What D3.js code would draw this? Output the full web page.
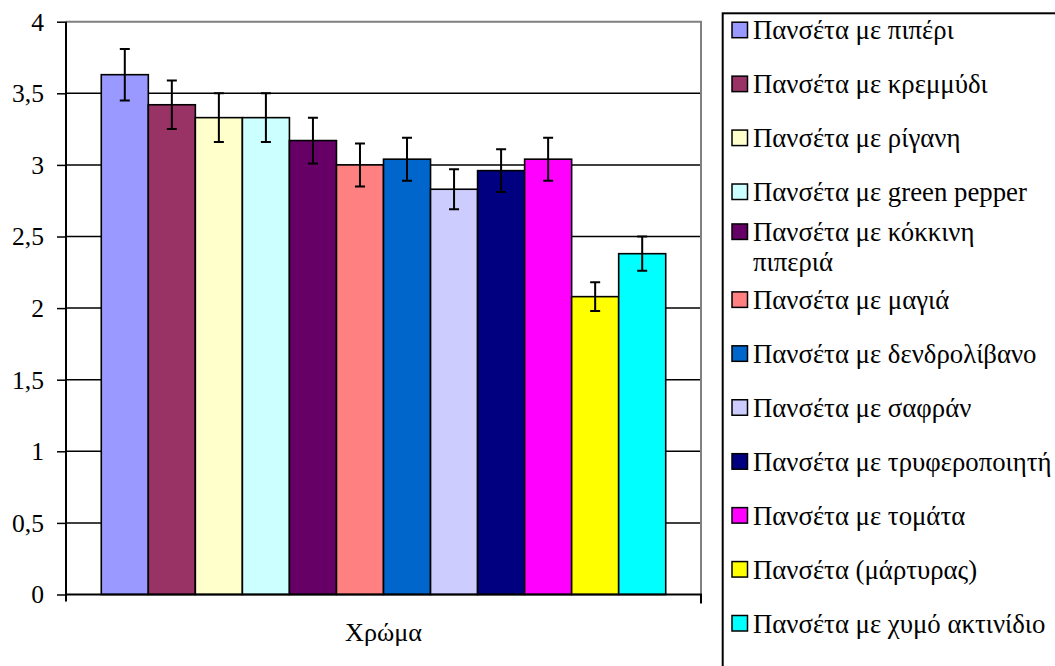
<!DOCTYPE html>
<html>
<head>
<meta charset="utf-8">
<script src="https://cdn.jsdelivr.net/npm/d3@7"></script>
<style>
  html, body { margin: 0; padding: 0; background: #fff; }
</style>
</head>
<body>
<svg id="chart" width="1055" height="666"></svg>
<script>
const category = ["Χρώμα"];
const seriesNames = [
  "Πανσέτα με πιπέρι",
  "Πανσέτα με κρεμμύδι",
  "Πανσέτα με ρίγανη",
  "Πανσέτα με green pepper",
  "Πανσέτα με κόκκινη πιπεριά",
  "Πανσέτα με μαγιά",
  "Πανσέτα με δενδρολίβανο",
  "Πανσέτα με σαφράν",
  "Πανσέτα με τρυφεροποιητή",
  "Πανσέτα με τομάτα",
  "Πανσέτα (μάρτυρας)",
  "Πανσέτα με χυμό ακτινίδιο"
];
// legend text as it is broken into lines in the legend
const legendLines = [
  ["Πανσέτα με πιπέρι"],
  ["Πανσέτα με κρεμμύδι"],
  ["Πανσέτα με ρίγανη"],
  ["Πανσέτα με green pepper"],
  ["Πανσέτα με κόκκινη", "πιπεριά"],
  ["Πανσέτα με μαγιά"],
  ["Πανσέτα με δενδρολίβανο"],
  ["Πανσέτα με σαφράν"],
  ["Πανσέτα με τρυφεροποιητή"],
  ["Πανσέτα με τομάτα"],
  ["Πανσέτα (μάρτυρας)"],
  ["Πανσέτα με χυμό ακτινίδιο"]
];
const values = [3.63, 3.42, 3.33, 3.33, 3.17, 3.00, 3.04, 2.83, 2.96, 3.04, 2.08, 2.38];
const errors = [0.18, 0.17, 0.17, 0.17, 0.16, 0.15, 0.15, 0.14, 0.15, 0.15, 0.10, 0.12];
const colors = ["#9999FF", "#993366", "#FFFFCC", "#CCFFFF", "#660066", "#FF8080",
                "#0066CC", "#CCCCFF", "#000080", "#FF00FF", "#FFFF00", "#00FFFF"];
const yTicks = [0, 0.5, 1, 1.5, 2, 2.5, 3, 3.5, 4];
const yTickLabels = ["0", "0,5", "1", "1,5", "2", "2,5", "3", "3,5", "4"];

// ---- font selection: pick the first installed serif face ----
const ctx = document.createElement("canvas").getContext("2d");
function measure(str, font) { ctx.font = font; return ctx.measureText(str).width; }
const probe = "Πανσέτα green pepper 3,5 Χρώμα";
const candidates = ["Liberation Serif", "Times New Roman", "Tinos", "DejaVu Serif",
                    "Noto Serif", "FreeSerif", "Nimbus Roman", "Times"];
let FAMILY = null;
for (const c of candidates) {
  const a = measure(probe, `40px '${c}', monospace`);
  const b = measure(probe, `40px monospace`);
  const a2 = measure(probe, `40px '${c}', sans-serif`);
  const b2 = measure(probe, `40px sans-serif`);
  if (Math.abs(a - b) > 0.5 && Math.abs(a2 - b2) > 0.5) { FAMILY = c; break; }
}
const FONT = FAMILY ? `'${FAMILY}', serif` : "serif";
function fitSize(str, targetW, base) {
  const w = measure(str, `${base}px ${FONT}`);
  return w > 0 ? base * targetW / w : base;
}
const legendSize = fitSize("Πανσέτα με green pepper", 274, 22);
const tickSize = fitSize("3,5", 32, 21);
const labelSize = fitSize("Χρώμα", 77, 22);

const svg = d3.select("#chart");
const plot = { left: 66, right: 701, top: 21.7, bottom: 594.5 };

const y = d3.scaleLinear().domain([0, 4]).range([plot.bottom, plot.top]);
const x0 = d3.scaleBand().domain(category).range([plot.left, plot.right])
  .paddingInner(0).paddingOuter(0.0625);
const x1 = d3.scaleBand().domain(seriesNames).range([0, x0.bandwidth()]).padding(0);

// gridlines
svg.append("g").selectAll("line")
  .data(yTicks.filter(t => t > 0 && t < 4))
  .join("line")
  .attr("x1", plot.left).attr("x2", plot.right)
  .attr("y1", d => y(d)).attr("y2", d => y(d))
  .attr("stroke", "#000").attr("stroke-width", 1.5);

// plot border top & right (gray)
svg.append("path")
  .attr("d", `M${plot.left},${y(4)}H${plot.right}V${plot.bottom}`)
  .attr("fill", "none").attr("stroke", "#808080").attr("stroke-width", 2);

// bars
const gBars = svg.append("g").attr("transform", `translate(${x0(category[0])},0)`);
gBars.selectAll("rect")
  .data(seriesNames)
  .join("rect")
  .attr("x", d => x1(d))
  .attr("y", (d, i) => y(values[i]))
  .attr("width", x1.bandwidth())
  .attr("height", (d, i) => y(0) - y(values[i]))
  .attr("fill", (d, i) => colors[i])
  .attr("stroke", "#000").attr("stroke-width", 1.6);

// error bars
const capW = 10;
const gErr = gBars.append("g").attr("stroke", "#000").attr("stroke-width", 2).attr("fill", "none");
gErr.selectAll("path")
  .data(seriesNames)
  .join("path")
  .attr("d", (d, i) => {
    const cx = x1(d) + x1.bandwidth() / 2;
    const yt = y(values[i] + errors[i]);
    const yb = y(values[i] - errors[i]);
    return `M${cx},${yt}V${yb}M${cx - capW / 2},${yt}H${cx + capW / 2}M${cx - capW / 2},${yb}H${cx + capW / 2}`;
  });

// y axis
const yAxis = d3.axisLeft(y).tickValues(yTicks)
  .tickFormat((d, i) => yTickLabels[i]).tickSize(9).tickPadding(13);
const gy = svg.append("g").attr("transform", `translate(${plot.left},0)`).call(yAxis)
  .attr("font-family", FONT).attr("font-size", tickSize);
gy.select(".domain").remove();
gy.selectAll(".tick line").attr("stroke", "#000").attr("stroke-width", 1.5);
gy.selectAll(".tick text").attr("fill", "#000").attr("dy", "0.33em");
svg.append("line").attr("x1", plot.left).attr("x2", plot.left)
  .attr("y1", y(4)).attr("y2", plot.bottom + 7)
  .attr("stroke", "#000").attr("stroke-width", 2);

// x axis
svg.append("line").attr("x1", plot.left - 1).attr("x2", plot.right + 1)
  .attr("y1", plot.bottom).attr("y2", plot.bottom)
  .attr("stroke", "#000").attr("stroke-width", 2);
svg.append("line").attr("x1", plot.right).attr("x2", plot.right)
  .attr("y1", plot.bottom).attr("y2", plot.bottom + 9)
  .attr("stroke", "#000").attr("stroke-width", 2);
svg.append("text")
  .attr("x", x0(category[0]) + x0.bandwidth() / 2)
  .attr("y", 641)
  .attr("text-anchor", "middle")
  .attr("font-family", FONT)
  .attr("font-size", labelSize).attr("fill", "#000")
  .text(category[0]);

// legend
const lg = svg.append("g");
lg.append("rect").attr("x", 722.7).attr("y", 13.3).attr("width", 400).attr("height", 700)
  .attr("fill", "#fff").attr("stroke", "#000").attr("stroke-width", 2);
const legendY = d3.scalePoint().domain(seriesNames).range([31.7, 625]);
const lineGap = 30;
seriesNames.forEach((name, i) => {
  const cy = legendY(name);
  const nLines = legendLines[i].length;
  const shift = nLines > 1 ? -14 : 0;
  lg.append("rect").attr("x", 732).attr("y", cy + shift - 9.5).attr("width", 15.5).attr("height", 15.5)
    .attr("fill", colors[i]).attr("stroke", "#000").attr("stroke-width", 1.5);
  legendLines[i].forEach((ln, k) => {
    lg.append("text").attr("x", 753).attr("y", cy + shift + 7.5 + k * lineGap)
      .attr("font-family", FONT)
      .attr("font-size", legendSize).attr("fill", "#000")
      .text(ln);
  });
});
</script>
</body>
</html>
